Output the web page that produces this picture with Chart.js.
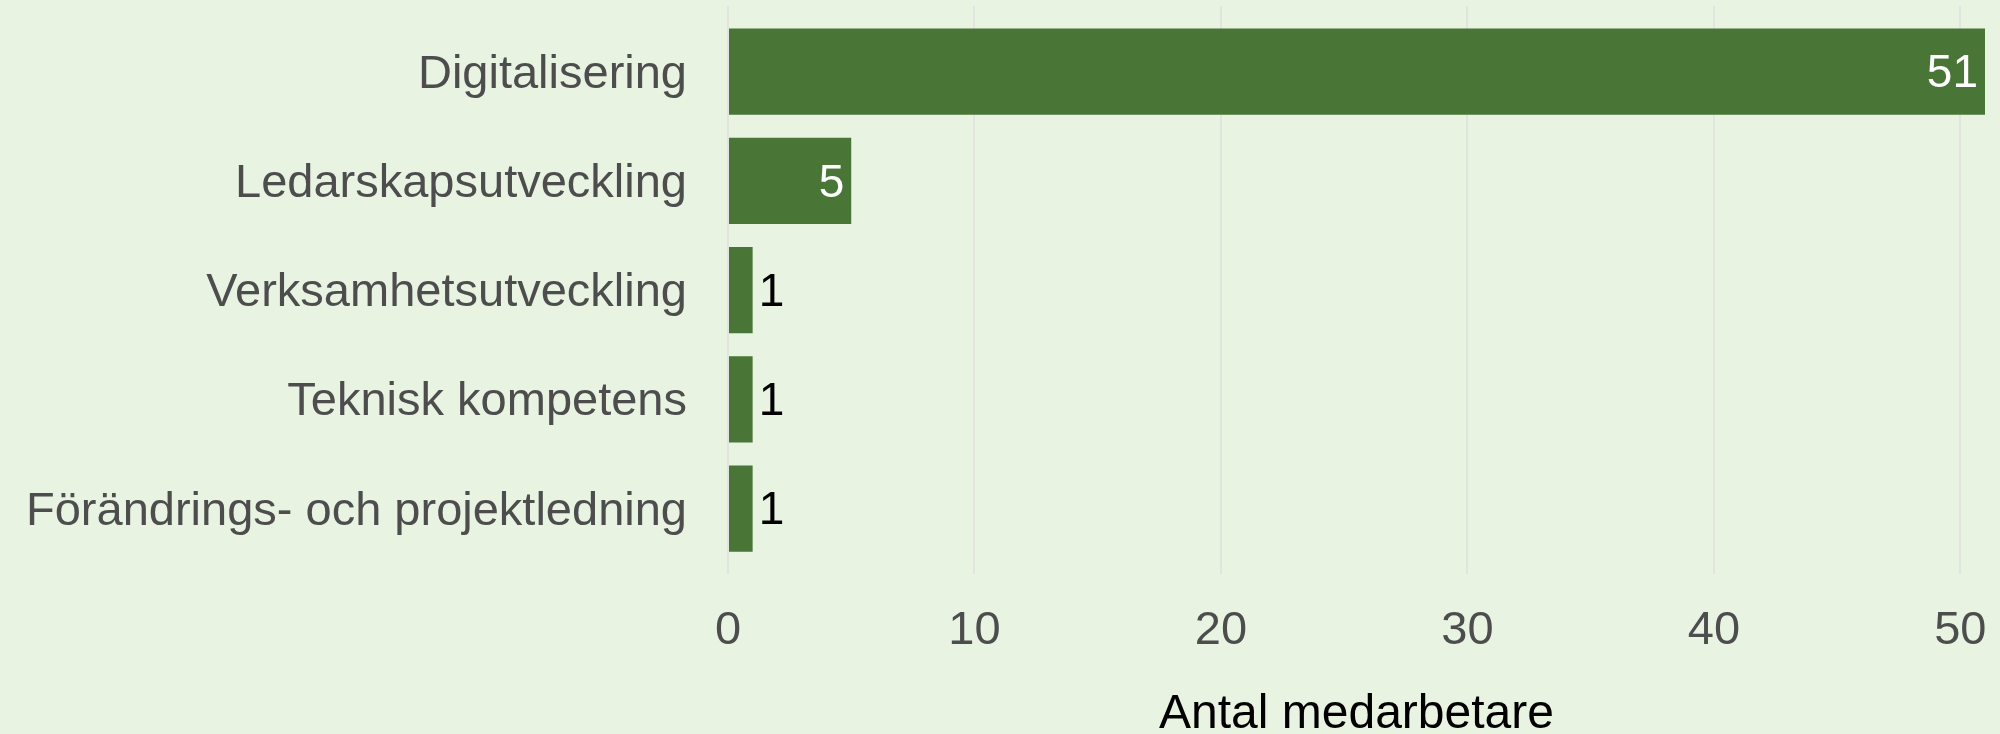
<!DOCTYPE html>
<html>
<head>
<meta charset="utf-8">
<script src="https://cdn.jsdelivr.net/npm/chart.js@4/dist/chart.umd.min.js"></script>
<style>
  html, body { margin: 0; padding: 0; background: #e8f3e2; overflow: hidden; }
  #wrap { width: 2000px; height: 734px; }
</style>
</head>
<body>
<div id="wrap"><canvas id="chart"></canvas></div>
<script>
const categories = [
  "Digitalisering",
  "Ledarskapsutveckling",
  "Verksamhetsutveckling",
  "Teknisk kompetens",
  "Förändrings- och projektledning",
];
const counts = [51, 5, 1, 1, 1];
const xTicks = [0, 10, 20, 30, 40, 50];

const barColor = "#497636";
const textGray = "#4d4d4d";
const fontFamily = "'Liberation Sans', Arial, sans-serif";

// value labels: inside (white) on long bars, outside (black) on short ones
const valueLabels = {
  id: "valueLabels",
  afterDatasetsDraw(chart) {
    const ctx = chart.ctx;
    const meta = chart.getDatasetMeta(0);
    ctx.save();
    ctx.font = "46px " + fontFamily;
    ctx.textBaseline = "middle";
    meta.data.forEach((bar, i) => {
      const v = counts[i];
      if (v >= 5) {
        ctx.fillStyle = "#ffffff";
        ctx.textAlign = "right";
        ctx.fillText(String(v), bar.x - 7, bar.y + 3);
      } else {
        ctx.fillStyle = "#000000";
        ctx.textAlign = "left";
        ctx.fillText(String(v), bar.x + 6, bar.y + 3);
      }
    });
    ctx.restore();
  },
};

new Chart(document.getElementById("chart"), {
  type: "bar",
  data: {
    datasets: [
      {
        data: counts.map((v, i) => ({ x: v, y: i + 1 })),
        backgroundColor: barColor,
        borderWidth: 0,
        categoryPercentage: 1,
        barPercentage: 0.79,
      },
    ],
  },
  plugins: [valueLabels],
  options: {
    indexAxis: "y",
    responsive: true,
    maintainAspectRatio: false,
    animation: false,
    layout: { padding: { left: 0, right: 15, top: 6, bottom: 0 } },
    plugins: {
      legend: { display: false },
      tooltip: { enabled: false },
    },
    scales: {
      x: {
        type: "linear",
        min: 0,
        max: 51,
        afterBuildTicks(scale) {
          scale.ticks = xTicks.map((v) => ({ value: v }));
        },
        afterFit(scale) {
          scale.paddingLeft = 0;
          scale.paddingRight = 0;
        },
        grid: { color: "#e2e5df", lineWidth: 2, drawTicks: false, tickLength: 0 },
        border: { display: false },
        ticks: {
          padding: 29,
          color: textGray,
          font: { family: fontFamily, size: 47, lineHeight: 1.2 },
        },
        title: {
          display: true,
          text: "Antal medarbetare",
          color: "#000000",
          padding: { top: 7, bottom: 0 },
          font: { family: fontFamily, size: 48, lineHeight: 0.8 },
        },
      },
      y: {
        type: "linear",
        reverse: true,
        offset: false,
        min: 0.4,
        max: 5.6,
        afterBuildTicks(scale) {
          scale.ticks = categories.map((c, i) => ({ value: i + 1 }));
        },
        afterFit(scale) {
          scale.width = 728;
          scale.paddingTop = 0;
          scale.paddingBottom = 0;
        },
        grid: { display: false, drawTicks: false, tickLength: 0 },
        border: { display: false },
        ticks: {
          padding: 41,
          labelOffset: 3,
          color: textGray,
          font: { family: fontFamily, size: 47 },
          callback: (v) => categories[Math.round(v) - 1] || "",
        },
      },
    },
  },
});
</script>
</body>
</html>
